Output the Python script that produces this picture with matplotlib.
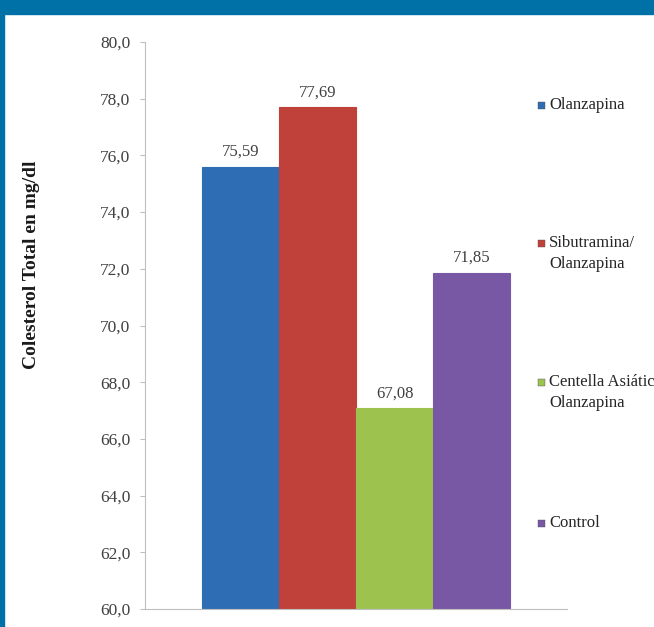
import matplotlib
matplotlib.use("Agg")
import matplotlib.pyplot as plt
from matplotlib.patches import Rectangle

# datos del grafico
grupos = ["Olanzapina", "Sibutramina/\nOlanzapina", "Centella Asiática/\nOlanzapina", "Control"]
valores = [75.59, 77.69, 67.08, 71.85]
etiquetas = ["75,59", "77,69", "67,08", "71,85"]
colores = ["#2e6db4", "#c0403a", "#9dc34e", "#7857a4"]
yticks = [60, 62, 64, 66, 68, 70, 72, 74, 76, 78, 80]

W, H = 654, 627
fig = plt.figure(figsize=(W / 100, H / 100), dpi=100)
fig.patch.set_facecolor("white")

# marco azul (banda superior y borde izquierdo)
fig.patches.append(Rectangle((0, 1 - 14 / H), 1, 14 / H, transform=fig.transFigure,
                             color="#0071a6", zorder=0))
fig.patches.append(Rectangle((0, 0), 4 / W, 1, transform=fig.transFigure,
                             color="#0071a6", zorder=0))

ax = fig.add_axes([145 / W, 1 - 609 / H, (567 - 145) / W, (609 - 42) / H])
pos = [-1.5, -0.5, 0.5, 1.5]
ax.bar(pos, [v - 60 for v in valores], bottom=60, width=1.0, color=colores,
       edgecolor=[c for c in colores], linewidth=0.8)
for p, v, t in zip(pos, valores, etiquetas):
    ax.annotate(t, (p, v), xytext=(0, 5), textcoords="offset points",
                ha="center", va="bottom", family="Liberation Serif",
                fontsize=12, color="#404040")

ax.set_xlim(-2.74, 2.74)
ax.set_ylim(60, 80)
ax.set_yticks(yticks)
ax.set_yticklabels([("%.1f" % t).replace(".", ",") for t in yticks],
                   family="Liberation Serif", fontsize=12.5, color="#404040")
ax.set_xticks([])
ax.tick_params(axis="y", length=3.6, color="#bfbfbf", pad=7)
for s in ["top", "right"]:
    ax.spines[s].set_visible(False)
ax.spines["left"].set_color("#bfbfbf")
ax.spines["bottom"].set_color("#bfbfbf")

fig.text(32 / W, 1 - 265 / H, "Colesterol Total en mg/dl", rotation=90,
         ha="center", va="center", family="Liberation Serif",
         fontweight="bold", fontsize=14, color="#1a1a1a")

# leyenda a mano
ley_y = [105, 243, 382, 523]
for g, c, y in zip(grupos, colores, ley_y):
    fig.patches.append(Rectangle((538 / W, 1 - (y + 3.5) / H), 7 / W, 7 / H,
                                 transform=fig.transFigure, color=c,
                                 ec="#555555", lw=0.3))
    fig.text(549 / W, 1 - (y - 8) / H, g, ha="left", va="top",
             family="Liberation Serif", fontsize=12, color="#262626",
             linespacing=1.45)

fig.savefig("out.png", dpi=100)
